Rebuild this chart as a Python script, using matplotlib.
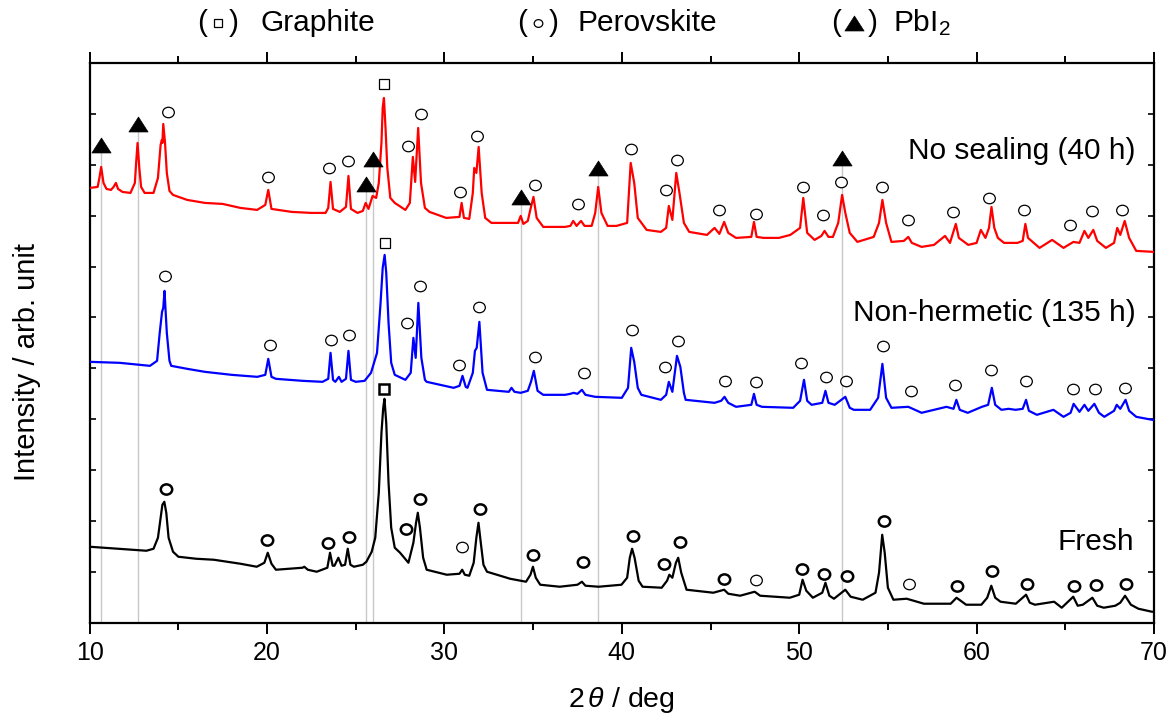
import matplotlib
matplotlib.use("Agg")
import matplotlib.pyplot as plt
from matplotlib.path import Path
from matplotlib.transforms import Affine2D
from matplotlib.ticker import MultipleLocator
from matplotlib.lines import Line2D
import numpy as np

plt.rcParams['font.family'] = ['Liberation Sans', 'DejaVu Sans']
plt.rcParams['mathtext.fontset'] = 'custom'
plt.rcParams['mathtext.rm'] = 'Liberation Sans'
plt.rcParams['mathtext.it'] = 'Liberation Sans:italic'

# ---------------- data (2theta [deg], intensity [arb. unit, stacked]) ----------------
no_sealing = [
    (10.0, 435), (10.45, 436), (10.55, 445), (10.65, 456), (10.78, 440), (10.95, 434), (11.2, 433),
    (11.35, 436), (11.48, 440), (11.6, 434), (11.85, 431), (12.3, 430), (12.55, 440), (12.62, 460),
    (12.7, 480), (12.8, 455), (12.9, 436), (13.1, 430), (13.6, 430), (13.85, 445), (14.0, 478),
    (14.07, 483), (14.1, 480), (14.15, 499), (14.25, 480), (14.35, 450), (14.5, 432), (14.7, 428),
    (15.5, 423), (16.5, 420), (17.5, 419), (18.5, 415), (19.44, 413), (19.9, 418), (20.07, 433),
    (20.25, 414), (21.4, 411), (22.5, 410), (23.3, 410), (23.45, 415), (23.58, 441), (23.72, 414),
    (24.1, 411), (24.45, 416), (24.59, 447), (24.73, 414), (25.1, 410), (25.4, 412), (25.56, 420),
    (25.72, 414), (25.95, 427), (26.15, 425), (26.3, 440), (26.45, 480), (26.52, 515), (26.59, 525),
    (26.68, 495), (26.78, 455), (26.95, 425), (27.2, 420), (27.8, 413), (28.05, 420), (28.22, 466),
    (28.35, 441), (28.52, 495), (28.68, 440), (28.9, 415), (29.16, 411), (30.1, 405), (30.85, 406),
    (30.97, 420), (31.1, 405), (31.4, 404), (31.6, 430), (31.68, 455), (31.8, 450), (31.93, 476),
    (32.1, 430), (32.3, 405), (32.65, 400), (33.6, 400), (34.15, 400), (34.3, 407), (34.45, 399),
    (34.7, 402), (34.84, 413), (35.02, 426), (35.2, 405), (35.57, 396), (36.8, 396), (37.1, 397),
    (37.26, 402), (37.45, 397), (37.7, 402), (37.9, 397), (38.3, 397), (38.5, 410), (38.67, 436),
    (38.85, 410), (39.2, 397), (39.7, 397), (40.3, 400), (40.5, 460), (40.7, 440), (40.9, 405),
    (41.4, 393), (42.2, 391), (42.5, 395), (42.65, 417), (42.85, 403), (43.07, 450), (43.25, 430),
    (43.5, 400), (43.8, 391), (44.8, 388), (45.23, 395), (45.5, 389), (45.77, 401), (46.0, 390),
    (46.44, 385), (47.3, 386), (47.45, 401), (47.6, 386), (48.0, 385), (48.86, 385), (49.5, 388),
    (49.9, 393), (50.05, 395), (50.23, 425), (50.45, 390), (50.87, 383), (51.25, 387), (51.43, 392),
    (51.65, 386), (51.9, 386), (52.2, 400), (52.42, 428), (52.6, 410), (52.85, 390), (53.28, 381),
    (54.2, 386), (54.5, 400), (54.69, 423), (54.9, 400), (55.2, 381), (55.9, 382), (56.15, 386),
    (56.35, 380), (56.9, 376), (57.6, 378), (58.22, 387), (58.5, 380), (58.83, 399), (59.0, 385),
    (59.53, 378), (60.0, 380), (60.24, 393), (60.5, 385), (60.7, 395), (60.84, 416), (61.0, 395),
    (61.2, 385), (61.55, 380), (62.3, 380), (62.6, 382), (62.75, 399), (62.9, 385), (63.55, 375),
    (64.26, 383), (64.9, 375), (65.46, 381), (65.8, 380), (66.08, 392), (66.3, 385), (66.58, 393),
    (66.8, 382), (67.29, 375), (67.75, 380), (67.93, 395), (68.1, 388), (68.35, 402), (68.6, 385),
    (69.0, 372), (69.9, 371), (70.0, 371)]

non_hermetic = [
    (10.0, 261), (11.7, 260), (13.4, 257), (13.8, 262), (13.95, 290), (14.08, 311), (14.15, 315),
    (14.22, 332), (14.35, 290), (14.5, 262), (14.6, 257), (15.5, 254), (16.5, 251), (18.0, 248),
    (19.45, 246), (19.9, 248), (20.07, 264), (20.25, 246), (20.5, 244), (22.0, 242), (23.13, 241),
    (23.45, 244), (23.58, 270), (23.72, 243), (23.85, 241), (24.05, 246), (24.2, 241), (24.45, 244),
    (24.59, 272), (24.73, 243), (25.0, 241), (25.5, 242), (25.86, 250), (26.2, 270), (26.4, 320),
    (26.52, 355), (26.63, 368), (26.72, 350), (26.85, 300), (27.0, 260), (27.2, 248), (27.8, 243),
    (28.1, 250), (28.25, 285), (28.38, 265), (28.53, 320), (28.7, 265), (28.9, 243), (29.0, 241),
    (30.52, 235), (30.85, 237), (31.02, 247), (31.2, 236), (31.3, 235), (31.6, 250), (31.72, 272),
    (31.82, 275), (31.97, 301), (32.15, 250), (32.4, 233), (33.63, 231), (33.78, 235), (33.95, 231),
    (34.3, 230), (34.7, 232), (34.88, 241), (35.04, 252), (35.25, 232), (35.57, 228), (36.8, 228),
    (37.1, 229), (37.28, 230), (37.5, 229), (37.75, 233), (37.95, 228), (38.5, 226), (40.0, 225),
    (40.35, 235), (40.53, 275), (40.7, 261), (40.9, 235), (41.1, 228), (42.2, 223), (42.5, 228),
    (42.65, 241), (42.85, 231), (43.11, 267), (43.3, 256), (43.5, 230), (43.6, 223), (45.23, 220),
    (45.6, 222), (45.79, 226), (46.0, 220), (46.44, 216), (47.3, 218), (47.45, 229), (47.6, 218),
    (47.9, 216), (49.66, 215), (50.05, 222), (50.27, 243), (50.45, 222), (50.7, 218), (51.3, 220),
    (51.48, 232), (51.65, 220), (52.0, 218), (52.6, 226), (52.85, 215), (53.08, 213), (54.0, 213),
    (54.45, 225), (54.69, 259), (54.9, 225), (55.2, 215), (56.15, 216), (56.9, 210), (58.3, 216),
    (58.7, 214), (58.86, 223), (59.05, 213), (59.5, 210), (60.3, 216), (60.65, 218), (60.86, 235),
    (61.05, 218), (61.4, 213), (61.8, 214), (62.2, 213), (62.6, 214), (62.79, 223), (62.95, 212),
    (63.4, 208), (64.33, 213), (64.9, 206), (65.3, 210), (65.47, 219), (65.8, 211), (66.08, 218),
    (66.3, 212), (66.64, 219), (66.9, 210), (67.2, 206), (67.75, 212), (67.9, 218), (68.1, 214),
    (68.4, 223), (68.6, 212), (69.0, 206), (69.9, 203), (70.0, 203)]

fresh = [
    (10.0, 76), (13.2, 72), (13.6, 74), (13.85, 85), (14.0, 105), (14.1, 118), (14.21, 121),
    (14.32, 110), (14.45, 85), (14.7, 71), (15.0, 66), (16.0, 64), (17.0, 63), (18.5, 59),
    (19.42, 56), (19.85, 60), (20.04, 70), (20.25, 59), (20.5, 53), (22.0, 55), (22.1, 56),
    (22.3, 53), (22.8, 51), (23.4, 55), (23.55, 70), (23.7, 57), (23.8, 57), (24.02, 65),
    (24.2, 57), (24.4, 58), (24.55, 74), (24.7, 58), (24.9, 56), (25.4, 58), (25.6, 61),
    (25.9, 71), (26.1, 85), (26.3, 130), (26.45, 190), (26.55, 215), (26.62, 224), (26.72, 200),
    (26.85, 140), (27.0, 95), (27.2, 75), (27.5, 70), (27.97, 60), (28.25, 80), (28.4, 100),
    (28.5, 110), (28.62, 95), (28.8, 65), (29.0, 53), (30.13, 48), (30.85, 49), (31.0, 53),
    (31.15, 48), (31.4, 47), (31.65, 60), (31.8, 85), (31.92, 100), (32.05, 80), (32.2, 58),
    (32.4, 51), (33.7, 44), (34.6, 41), (34.85, 48), (34.99, 56), (35.15, 45), (35.4, 38),
    (36.5, 36), (37.5, 38), (37.75, 41), (37.95, 37), (38.69, 36), (39.98, 38), (40.3, 45),
    (40.45, 65), (40.58, 74), (40.72, 65), (40.95, 42), (41.17, 36), (42.25, 35), (42.55, 42),
    (42.68, 48), (42.85, 45), (43.05, 60), (43.18, 65), (43.35, 50), (43.65, 33), (45.16, 30),
    (45.77, 33), (46.0, 29), (46.67, 27), (47.49, 31), (47.8, 27), (49.47, 25), (50.0, 28),
    (50.19, 43), (50.4, 32), (50.77, 25), (51.3, 30), (51.48, 40), (51.7, 27), (51.96, 24),
    (52.6, 33), (52.9, 26), (53.58, 23), (54.3, 30), (54.5, 50), (54.68, 88), (54.82, 70),
    (55.0, 35), (55.31, 23), (56.06, 24), (57.03, 19), (58.54, 19), (58.87, 25), (59.41, 18),
    (60.27, 18), (60.6, 25), (60.83, 37), (61.05, 25), (61.35, 21), (62.21, 19), (62.79, 28),
    (63.0, 20), (63.29, 18), (64.37, 21), (64.8, 15), (65.45, 26), (65.7, 17), (65.99, 18),
    (66.53, 25), (66.8, 17), (67.17, 15), (67.82, 17), (68.1, 20), (68.37, 27), (68.7, 18),
    (69.12, 14), (69.88, 11), (70.0, 11)]

# phase markers: (2theta, height)
pbi2_marks = [(10.62, 478), (12.7, 499), (25.56, 439), (25.95, 464), (34.3, 426), (38.67, 455), (52.42, 465)]

red_graphite = [(26.59, 539)]
red_perov = [(14.39, 511), (20.08, 446), (23.47, 455), (24.55, 462), (27.94, 477), (28.67, 509),
             (30.9, 431), (31.82, 487), (35.08, 438), (37.51, 419), (40.5, 474), (42.47, 433),
             (43.11, 463), (45.47, 413), (47.55, 409), (50.2, 436), (51.37, 408), (52.34, 441),
             (54.69, 436), (56.15, 403), (58.66, 411), (60.68, 425), (62.65, 413), (65.27, 398),
             (66.53, 412), (68.22, 413)]

blue_graphite = [(26.63, 380)]
blue_perov = [(14.24, 347), (20.17, 278), (23.6, 283), (24.63, 288), (27.87, 300), (28.65, 337),
              (30.83, 258), (31.97, 316), (35.08, 266), (37.88, 250), (40.55, 293), (42.41, 256),
              (43.19, 282), (45.83, 242), (47.55, 241), (50.1, 260), (51.5, 246), (52.62, 242),
              (54.72, 277), (56.29, 232), (58.8, 238), (60.82, 253), (62.79, 242), (65.41, 234),
              (66.66, 234), (68.39, 235)]

black_graphite = [(26.62, 234)]
black_perov = [(14.3, 134), (20.0, 83), (23.44, 80), (24.64, 86), (27.86, 94), (28.63, 124),
               (32.03, 114), (35.0, 68), (37.82, 61), (40.63, 87), (42.37, 59), (43.26, 81),
               (45.77, 44), (50.17, 54), (51.42, 49), (52.67, 47), (54.79, 102), (58.89, 37),
               (60.87, 52), (62.86, 39), (65.47, 37), (66.72, 38), (68.43, 39)]
black_perov_thin = [(30.98, 76), (47.58, 43), (56.19, 39)]

series_labels = ["No sealing (40 h)", "Non-hermetic (135 h)", "Fresh"]
x_ticks = [10, 20, 30, 40, 50, 60, 70]

# ---------------- figure ----------------
fig = plt.figure(figsize=(11.75, 7.24), dpi=100)
ax = fig.add_axes([0.0763, 0.1399, 0.9058, 0.7731])

ellipse = Path.unit_circle().transformed(Affine2D().scale(1.0, 0.9))
tri = Path([(0, 0.78), (-1, -0.78), (1, -0.78), (0, 0.78)],
           [Path.MOVETO, Path.LINETO, Path.LINETO, Path.CLOSEPOLY])

# reference lines for PbI2
px, py = zip(*pbi2_marks)
ax.vlines(px, 0, py, colors='#c8c8c8', linewidth=1.0, zorder=1)

for data, col in [(no_sealing, '#ff0000'), (non_hermetic, '#0000ff'), (fresh, '#000000')]:
    x, y = zip(*data)
    ax.plot(x, y, color=col, linewidth=1.6, zorder=3)

def mk(pts, marker, ms, mew, mfc='white'):
    x, y = zip(*pts)
    ax.plot(x, y, linestyle='none', marker=marker, markersize=ms, markeredgewidth=mew,
            markeredgecolor='black', markerfacecolor=mfc, zorder=5)

mk(pbi2_marks, tri, 13.8, 0.5, 'black')
mk(red_graphite, 's', 7.8, 0.9)
mk(red_perov, ellipse, 8.4, 0.9)
mk(blue_graphite, 's', 7.8, 0.9)
mk(blue_perov, ellipse, 8.4, 0.9)
mk(black_graphite, 's', 7.6, 1.8)
mk(black_perov, ellipse, 8.2, 1.8)
mk(black_perov_thin, ellipse, 8.4, 0.9)

fs = 21.5
ax.text(68.96, 472, series_labels[0], ha='right', va='center', fontsize=fs)
ax.text(69.0, 310, series_labels[1], ha='right', va='center', fontsize=fs)
ax.text(68.9, 81, series_labels[2], ha='right', va='center', fontsize=fs)

ax.set_xlim(10, 70)
ax.set_ylim(0, 560)
ax.set_xticks(x_ticks)
ax.xaxis.set_minor_locator(MultipleLocator(5))
ax.set_yticks(np.arange(12) * 560 / 11)
ax.set_yticklabels([])
ax.tick_params(axis='x', which='major', direction='out', length=8, width=1.4,
               top=True, bottom=True, labelsize=18, pad=5)
ax.tick_params(axis='x', which='minor', direction='out', length=5, width=1.4, top=True, bottom=True)
ax.tick_params(axis='y', which='major', direction='in', length=4, width=1.2, left=True, right=True)
for s in ax.spines.values():
    s.set_linewidth(1.6)

ax.set_xlabel(r'2$\,\it{\theta}$ / deg', fontsize=20.5)
ax.xaxis.label.set_va('center')
ax.xaxis.set_label_coords(0.5, -0.138)
ax.set_ylabel('Intensity / arb. unit', fontsize=21)
ax.yaxis.label.set_va('center')
ax.yaxis.set_label_coords(-0.0589, 0.466)

# top legend
W, H = 1175.0, 724.0
ly = 1 - 23 / H
def ftxt(xp, s, ha='center'):
    fig.text(xp / W, ly, s, ha=ha, va='center', fontsize=fs)

def fmark(xp, marker, ms, mew, mfc):
    fig.add_artist(Line2D([xp / W], [ly], transform=fig.transFigure, marker=marker,
                          markersize=ms, markeredgewidth=mew, markeredgecolor='black',
                          markerfacecolor=mfc, linestyle='none'))

ftxt(202, '(')
fmark(218, 's', 6.3, 0.9, 'white')
ftxt(234, ')')
ftxt(260, 'Graphite', 'left')
ftxt(522, '(')
fmark(538, ellipse, 6.2, 0.9, 'white')
ftxt(554, ')')
ftxt(578, 'Perovskite', 'left')
ftxt(836, '(')
fmark(854, tri, 13.8, 0.5, 'black')
ftxt(873, ')')
ftxt(893, r'PbI$_2$', 'left')

fig.savefig('out.png', dpi=100)
